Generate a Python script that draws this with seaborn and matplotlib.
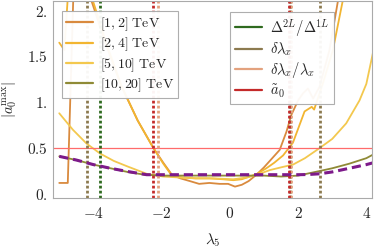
import matplotlib
matplotlib.use("Agg")
import matplotlib.pyplot as plt
from matplotlib.lines import Line2D
import seaborn as sns

# energy-bin curves |a0^max| vs lambda5
x_12 = [-5.0, -4.75, -4.4, -4.05, -3.6, -3.17, -2.7, -2.24, -1.95, -1.7, -1.45, -1.17, -0.9, -0.6,
        -0.3, -0.05, 0.15, 0.35, 0.55, 0.78, 1.0, 1.17, 1.46, 1.66, 1.8, 2.0, 2.15, 2.29, 2.44, 2.63,
        2.92, 3.17, 3.3]
y_12 = [0.12, 0.12, 4.5, 2.1, 1.6, 1.17, 0.8, 0.5, 0.34, 0.21, 0.17, 0.14, 0.11, 0.12,
        0.11, 0.11, 0.08, 0.10, 0.14, 0.21, 0.29, 0.36, 0.48, 0.68, 0.86, 1.02, 1.10, 1.15, 1.04, 1.17,
        1.57, 2.11, 2.4]

x_24 = [-5.0, -4.85, -4.6, -4.4, -4.05, -3.6, -3.17, -2.7, -2.24, -1.95, -1.7, -1.4, -1.0, -0.6,
        -0.2, 0.1, 0.35, 0.58, 0.8, 1.07, 1.3, 1.56, 1.85, 2.19, 2.4, 2.47, 2.73, 3.02, 3.31, 3.4]
y_24 = [1.65, 1.57, 3.0, 4.0, 2.15, 1.62, 1.17, 0.8, 0.5, 0.33, 0.2, 0.18, 0.17, 0.17,
        0.16, 0.15, 0.16, 0.19, 0.22, 0.28, 0.34, 0.42, 0.56, 0.90, 0.95, 0.92, 1.21, 1.57, 2.11, 2.3]

x_510 = [-5.0, -4.6, -4.2, -3.8, -3.4, -3.0, -2.44, -1.96, -1.5, -1.0, -0.5, 0.1, 0.5, 0.8,
         1.17, 1.5, 1.85, 2.2, 2.63, 3.0, 3.41, 3.8, 4.0, 4.2]
y_510 = [0.88, 0.70, 0.55, 0.44, 0.36, 0.30, 0.22, 0.19, 0.18, 0.17, 0.17, 0.16, 0.18, 0.21,
         0.26, 0.29, 0.32, 0.39, 0.5, 0.6, 0.77, 1.02, 1.2, 1.55]

x_1020 = [-5.0, -4.5, -4.0, -3.5, -3.0, -2.5, -2.0, -1.0, 0.0, 1.0, 1.5, 2.0, 2.63, 3.0, 3.5, 4.0, 4.2]
y_1020 = [0.41, 0.37, 0.32, 0.28, 0.24, 0.21, 0.2, 0.2, 0.2, 0.2, 0.19, 0.2, 0.25, 0.28, 0.33, 0.39, 0.43]

x_env = [-5.0, -4.5, -4.0, -3.5, -3.0, -2.44, -2.0, -1.0, 0.0, 1.0, 2.0, 2.3, 2.63, 3.0, 3.5, 4.0, 4.2]
y_env = [0.41, 0.37, 0.32, 0.28, 0.245, 0.21, 0.21, 0.21, 0.21, 0.21, 0.21, 0.212, 0.22, 0.24, 0.28, 0.32, 0.34]

curve_labels = [r"$[1,2]\ \mathrm{TeV}$", r"$[2,4]\ \mathrm{TeV}$", r"$[5,10]\ \mathrm{TeV}$", r"$[10,20]\ \mathrm{TeV}$"]
curve_colors = ["#d98a3e", "#f2b530", "#f3c84e", "#8f8a36"]

# vertical markers (lambda5 positions)
vline_labels = [r"$\Delta^{2L}/\Delta^{1L}$", r"$\delta\lambda_x$", r"$\delta\lambda_x/\lambda_x$", r"$\tilde{a}_0$"]
vline_colors = ["#2f6a1f", "#8c7a4f", "#e3a27e", "#c42a2a"]
vline_pos = [[-3.80, 1.76], [-4.19, 2.63], [-2.10, 1.80], [-2.24, 1.74]]

sns.set_style("white")
plt.rcParams["mathtext.fontset"] = "cm"
plt.rcParams["font.family"] = ["DejaVu Serif"]

fig = plt.figure(figsize=(3.74, 2.52), dpi=100)
ax = fig.add_axes([0.142, 0.214, 0.853, 0.784])

for xs, ys, c in zip([x_12, x_24, x_510, x_1020], [y_12, y_24, y_510, y_1020], curve_colors):
    sns.lineplot(x=xs, y=ys, color=c, lw=1.3, ax=ax, sort=False)

ax.axhline(0.5, color="#ff6b6b", lw=0.9)

for pos, c in zip(vline_pos, vline_colors):
    for p in pos:
        ax.axvline(p, color=c, lw=2.0, ls=(0, (1, 0.8)))

sns.lineplot(x=x_env, y=y_env, color="#7d1a8a", lw=2.2, ls=(0, (3, 1.6)), ax=ax)

ax.set_xlim(-5.18, 4.17)
ax.set_ylim(-0.045, 2.11)
ax.set_xticks([-4, -2, 0, 2, 4])
ax.set_xticklabels(["$-4$", "$-2$", "$0$", "$2$", "$4$"])
ax.set_yticks([0, 0.5, 1, 1.5, 2])
ax.set_yticklabels(["$0.$", "$0.5$", "$1.$", "$1.5$", "$2.$"])
ax.tick_params(direction="in", length=3, width=0.7, color="#999999", labelsize=11, pad=4)
ax.tick_params(axis="x", pad=6)
for s in ax.spines.values():
    s.set_color("#aaaaaa")
    s.set_linewidth(0.8)

ax.set_xlabel(r"$\lambda_5$", fontsize=11)
ax.xaxis.set_label_coords(0.5, -0.17)
ax.set_ylabel(r"$|a_0^{\mathrm{max}}|$", fontsize=10.5)
ax.yaxis.set_label_coords(-0.108, 0.5)

h1 = [Line2D([], [], color=c, lw=1.6) for c in curve_colors]
leg1 = ax.legend(h1, curve_labels, loc="upper left", bbox_to_anchor=(0.028, 0.945), borderaxespad=0,
                 fontsize=10, handlelength=1.9, handletextpad=0.5, labelspacing=0.2, borderpad=0.3,
                 fancybox=False, edgecolor="#aaaaaa", framealpha=0.95)
leg1.get_frame().set_linewidth(0.8)
ax.add_artist(leg1)

h2 = [Line2D([], [], color=c, lw=1.6) for c in vline_colors]
leg2 = ax.legend(h2, vline_labels, loc="upper left", bbox_to_anchor=(0.555, 0.94), borderaxespad=0,
                 fontsize=10.5, handlelength=1.9, handletextpad=0.5, labelspacing=0.15, borderpad=0.3,
                 fancybox=False, edgecolor="#aaaaaa", framealpha=0.95)
leg2.get_frame().set_linewidth(0.8)

fig.savefig("out.png", dpi=100)
